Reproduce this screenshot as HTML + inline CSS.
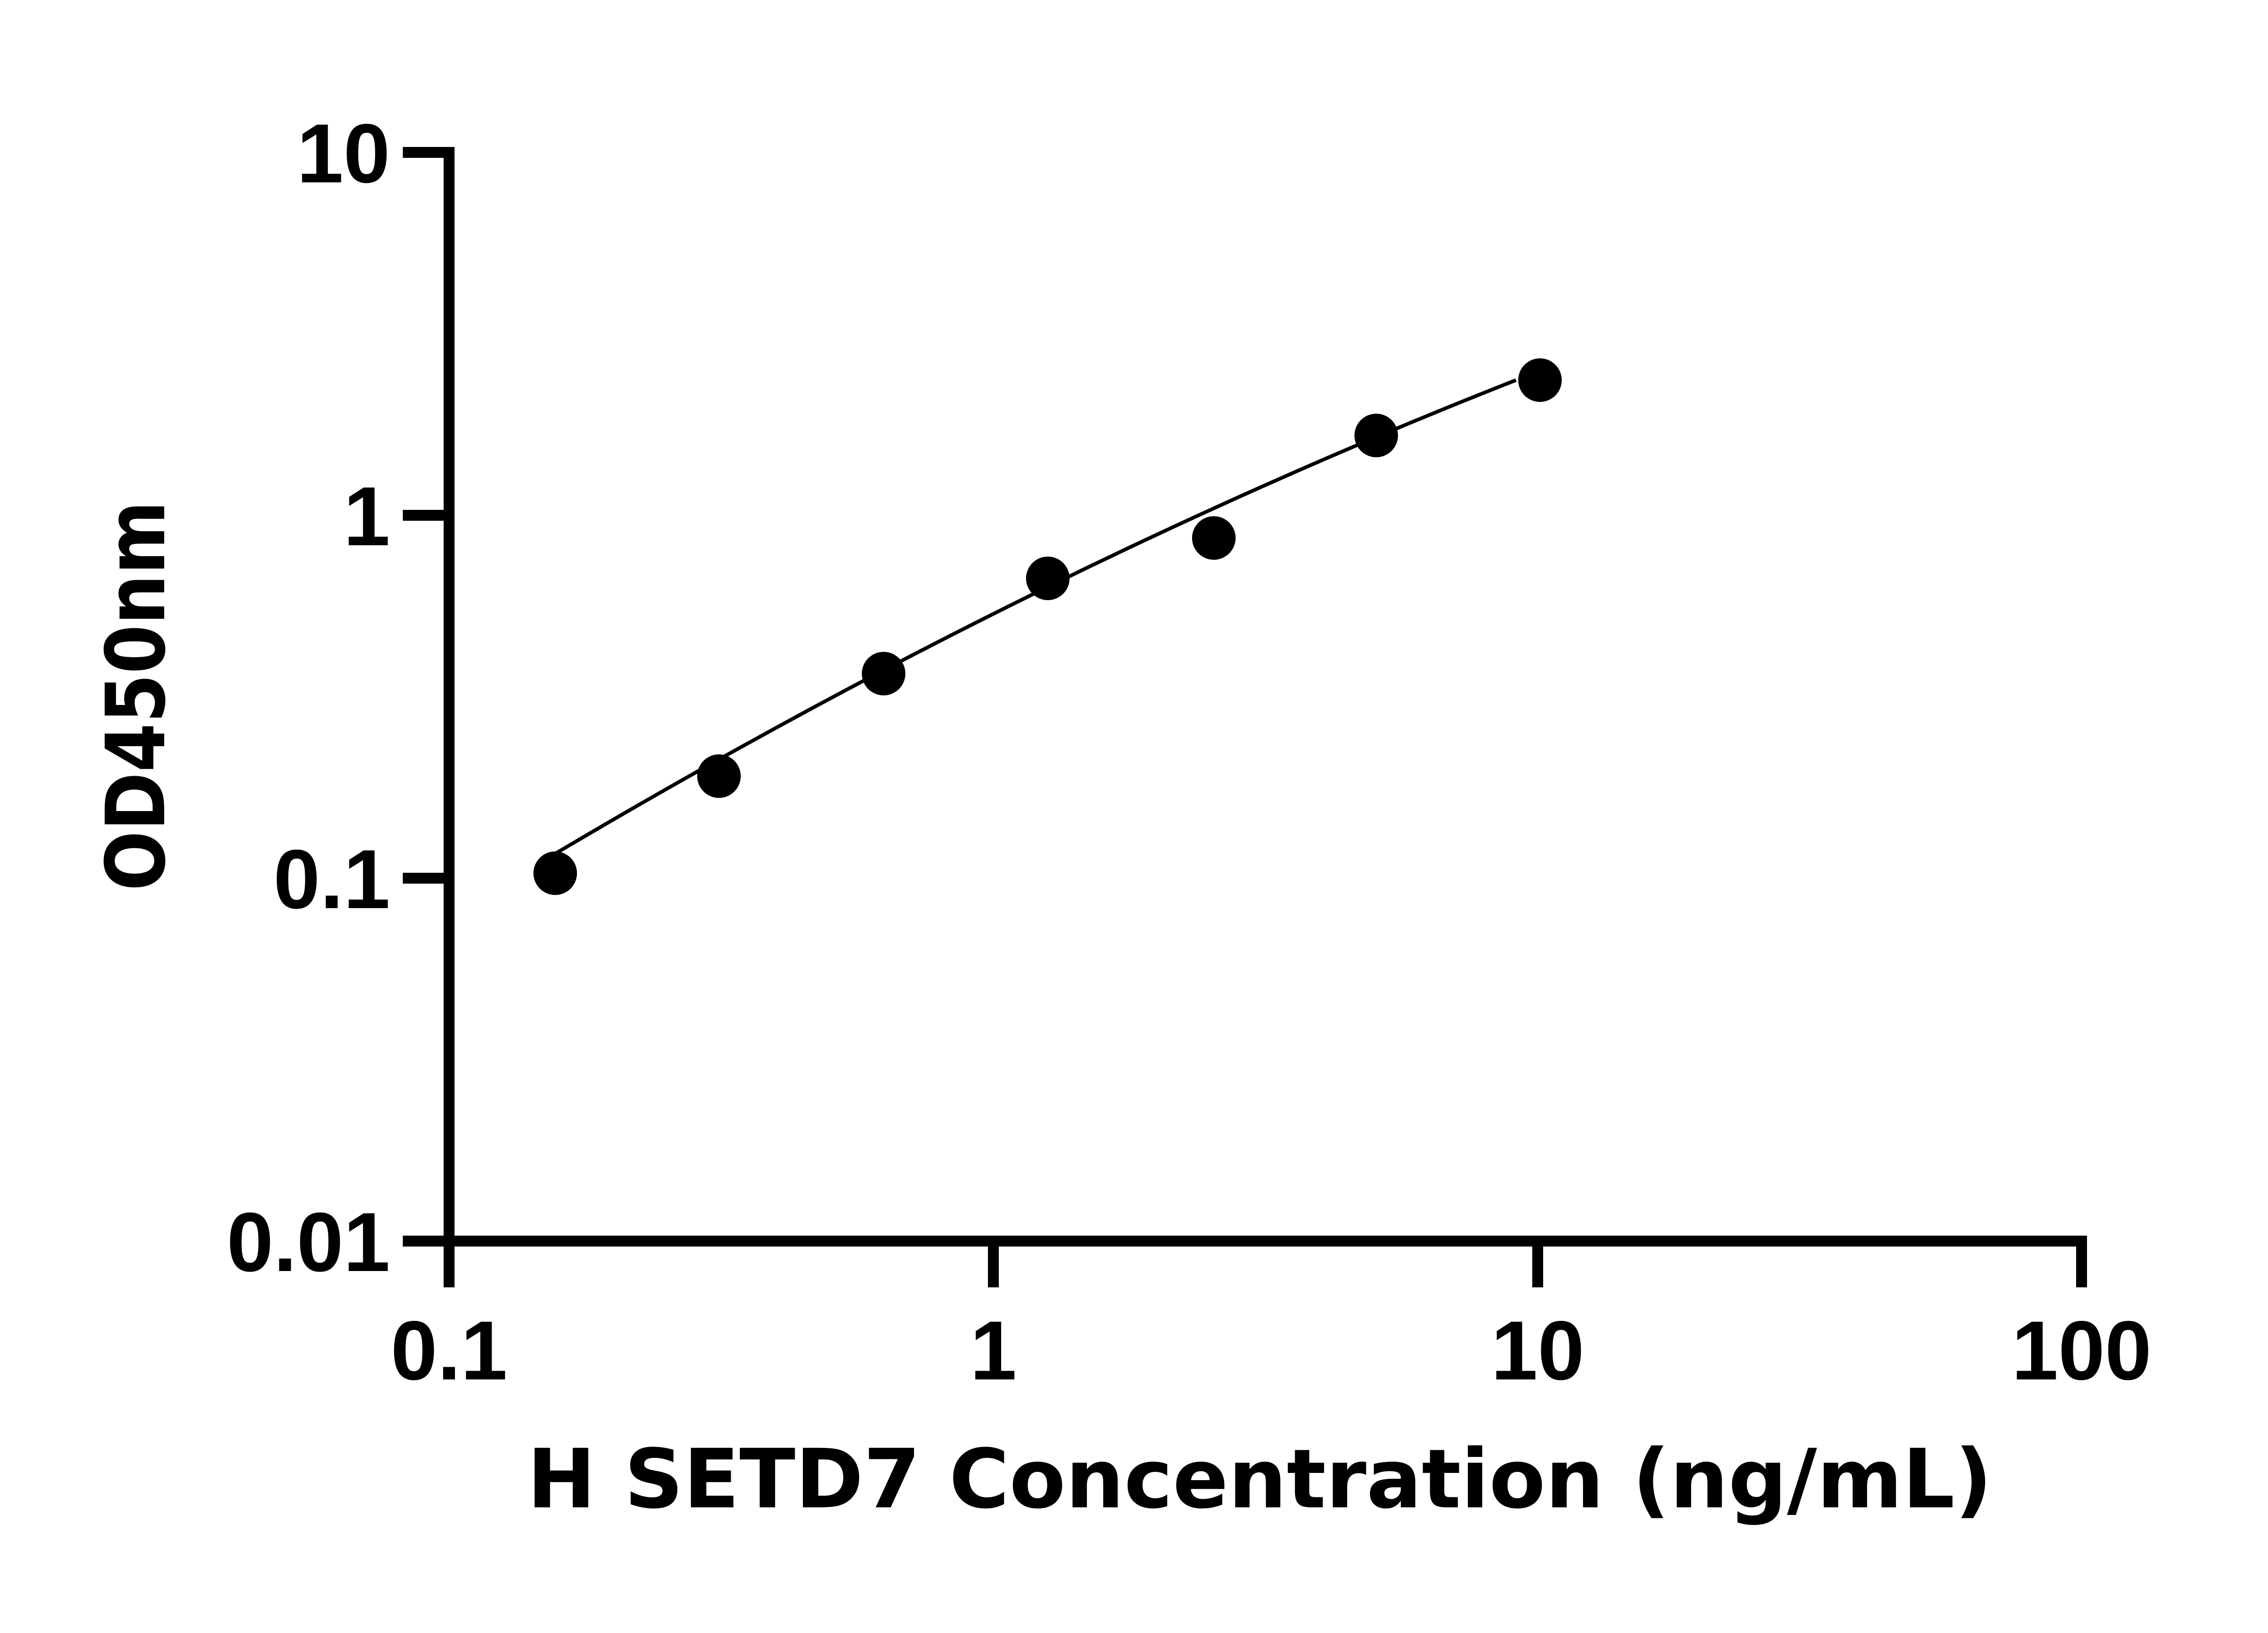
<!DOCTYPE html>
<html><head><meta charset="utf-8"><style>html,body{margin:0;padding:0;background:#fff}svg{display:block}</style></head>
<body>
<svg width="5142" height="3600" viewBox="0 0 5142 3600" xmlns="http://www.w3.org/2000/svg">
<rect width="5142" height="3600" fill="#fff"/>
<g stroke="#000" stroke-width="24" fill="none" stroke-linecap="butt">
<line x1="990" y1="324" x2="990" y2="2838"/>
<line x1="888" y1="2736" x2="4601" y2="2736"/>
<line x1="888" y1="336" x2="1002" y2="336"/>
<line x1="888" y1="1136" x2="990" y2="1136"/>
<line x1="888" y1="1936" x2="990" y2="1936"/>
<line x1="2190" y1="2736" x2="2190" y2="2838"/>
<line x1="3390" y1="2736" x2="3390" y2="2838"/>
<line x1="4589" y1="2724" x2="4589" y2="2838"/>
</g>
<path d="M1224,1882 Q2283,1254 3342,838" stroke="#000" stroke-width="8" fill="none"/>
<g fill="#000">
<circle cx="1224" cy="1925" r="48"/>
<circle cx="1585" cy="1711" r="48"/>
<circle cx="1948" cy="1485" r="48"/>
<circle cx="2310" cy="1275" r="48"/>
<circle cx="2676" cy="1186" r="48"/>
<circle cx="3034" cy="960" r="48"/>
<circle cx="3395" cy="838" r="48"/>
</g>
<g font-family="Liberation Sans, Arial, sans-serif" font-weight="bold" font-size="185" fill="#000">
<text x="860" y="402" text-anchor="end">10</text>
<text x="860" y="1202" text-anchor="end">1</text>
<text x="860" y="2002" text-anchor="end">0.1</text>
<text x="860" y="2802" text-anchor="end">0.01</text>
<text x="990" y="3041" text-anchor="middle">0.1</text>
<text x="2190" y="3041" text-anchor="middle">1</text>
<text x="3390" y="3041" text-anchor="middle">10</text>
<text x="4589" y="3041" text-anchor="middle">100</text>
</g>
<g font-family="DejaVu Sans, sans-serif" font-weight="bold" font-size="180" fill="#000">
<text x="1162" y="3323" textLength="3230" lengthAdjust="spacingAndGlyphs">H SETD7 Concentration (ng/mL)</text>
<text transform="translate(362,1964) rotate(-90)" x="0" y="0" textLength="860" lengthAdjust="spacingAndGlyphs">OD450nm</text>
</g>
</svg>
</body></html>
